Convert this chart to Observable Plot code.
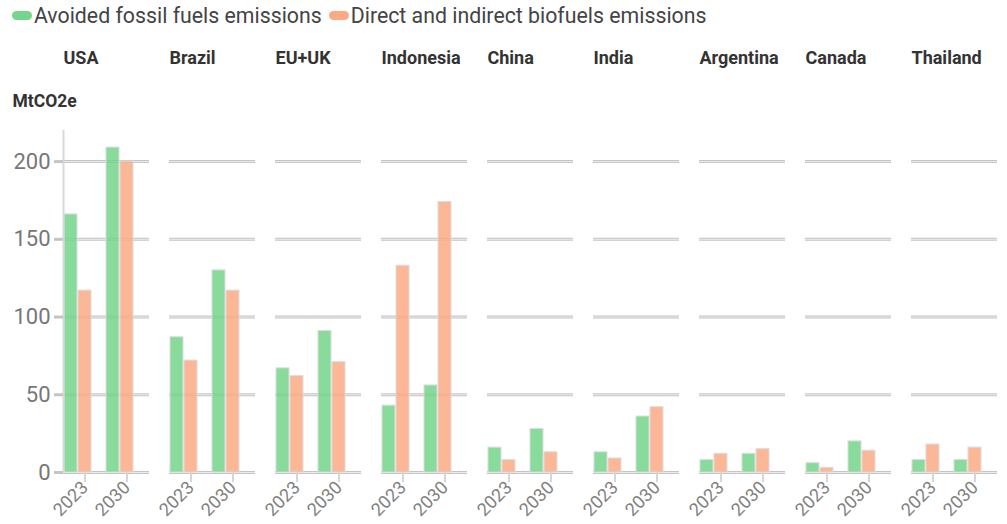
<!DOCTYPE html>
<html>
<head>
<meta charset="utf-8">
<script src="https://cdn.jsdelivr.net/npm/d3@7"></script>
<script src="https://cdn.jsdelivr.net/npm/@observablehq/plot@0.6"></script>
<style>
  body { margin: 0; background: #fff; font-family: Roboto, "Noto Sans", sans-serif; }
  #legend { height: 30px; display: flex; align-items: center; padding-left: 12px; font-size: 21.3px; color: #444; }
  #legend .item { display: flex; align-items: center; margin-right: 7px; }
  #legend .sw { width: 20px; height: 9px; border-radius: 5px; margin-right: 2px; }
  #chart svg { display: block; }
</style>
</head>
<body>
<div id="legend"></div>
<div id="chart"></div>
<script>
// Biofuel emissions balance by country, MtCO2e
const countries = ["USA", "Brazil", "EU+UK", "Indonesia", "China", "India", "Argentina", "Canada", "Thailand"];
const years = ["2023", "2030"];
const seriesNames = ["Avoided fossil fuels emissions", "Direct and indirect biofuels emissions"];
const seriesColors = ["#74d58b", "#fcaa85"];

const avoided2023 = [166, 87, 67, 43, 16, 13, 8, 6, 8];
const avoided2030 = [209, 130, 91, 56, 28, 36, 12, 20, 8];
const biofuel2023 = [117, 72, 62, 133, 8, 9, 12, 3, 18];
const biofuel2030 = [200, 117, 71, 174, 13, 42, 15, 14, 16];

const yTicks = [0, 50, 100, 150, 200];

// long-format rows
const rows = [];
countries.forEach((c, i) => {
  rows.push({country: c, year: "2023", series: seriesNames[0], value: avoided2023[i]});
  rows.push({country: c, year: "2023", series: seriesNames[1], value: biofuel2023[i]});
  rows.push({country: c, year: "2030", series: seriesNames[0], value: avoided2030[i]});
  rows.push({country: c, year: "2030", series: seriesNames[1], value: biofuel2030[i]});
});

// each year gets three slots; the third stays empty as spacing
const slotOf = d => d.year + "|" + (d.series === seriesNames[0] ? "a" : "b");
const xDomain = years.flatMap(y => [y + "|a", y + "|b", y + "|c"]);

// legend
const legend = d3.select("#legend");
seriesNames.forEach((s, i) => {
  const it = legend.append("div").attr("class", "item");
  it.append("div").attr("class", "sw").style("background", seriesColors[i]);
  it.append("span").text(s);
});

const chart = Plot.plot({
  width: 1007,
  height: 494,
  marginLeft: 62,
  marginRight: 9,
  marginTop: 100,
  marginBottom: 52,
  style: {fontFamily: "Roboto, 'Noto Sans', sans-serif", background: "#fff", overflow: "visible"},
  fx: {domain: countries, paddingInner: 0.19, paddingOuter: 0, axis: null, label: null},
  x: {domain: xDomain, paddingInner: 0.04, paddingOuter: 0.05, axis: null, label: null},
  y: {domain: [0, 220], axis: null, label: null},
  color: {domain: seriesNames, range: seriesColors},
  marks: [
    // gridlines drawn as a light double line
    Plot.ruleY(yTicks, {y: d => d, stroke: "#c4c4c4", strokeWidth: 3}),
    Plot.ruleY(yTicks, {y: d => d, stroke: "#ededed", strokeWidth: 1}),
    // bars
    Plot.barY(rows, {fx: "country", x: slotOf, y: "value", fill: "series", fillOpacity: 0.85, stroke: "#dcdcdc", strokeWidth: 1}),
    // vertical axis line on the first panel
    Plot.ruleX([{country: "USA"}], {fx: "country", x: () => xDomain[0], dx: -7.5, y1: 0, y2: 220, stroke: "#d8d8d8", strokeWidth: 2}),
    // y axis
    Plot.axisY({ticks: yTicks, tickSize: 9, tickPadding: 4, stroke: "#c4c4c4", strokeWidth: 3, fill: "#777", fontSize: 22, label: null}),
    // x axis: one tick per year at the centre of its three slots
    Plot.axisX({ticks: years.map(y => y + "|b"), tickFormat: d => d.split("|")[0], tickSize: 10, tickPadding: 2,
      tickRotate: -45, stroke: "#d6d6d6", strokeWidth: 2, fill: "#808080", fontSize: 18, label: null}),
    // country titles
    Plot.text(countries.map(c => ({country: c})), {fx: "country", text: "country", frameAnchor: "top-left",
      dy: -79, textAnchor: "start", fontWeight: "bold", fontSize: 18, fill: "#333"}),
    // unit label
    Plot.text([{country: "USA", label: "MtCO2e"}], {fx: "country", text: "label", frameAnchor: "top-left",
      dx: -51, dy: -36, textAnchor: "start", fontWeight: "bold", fontSize: 17.5, fill: "#333"})
  ]
});
document.getElementById("chart").appendChild(chart);
</script>
</body>
</html>
